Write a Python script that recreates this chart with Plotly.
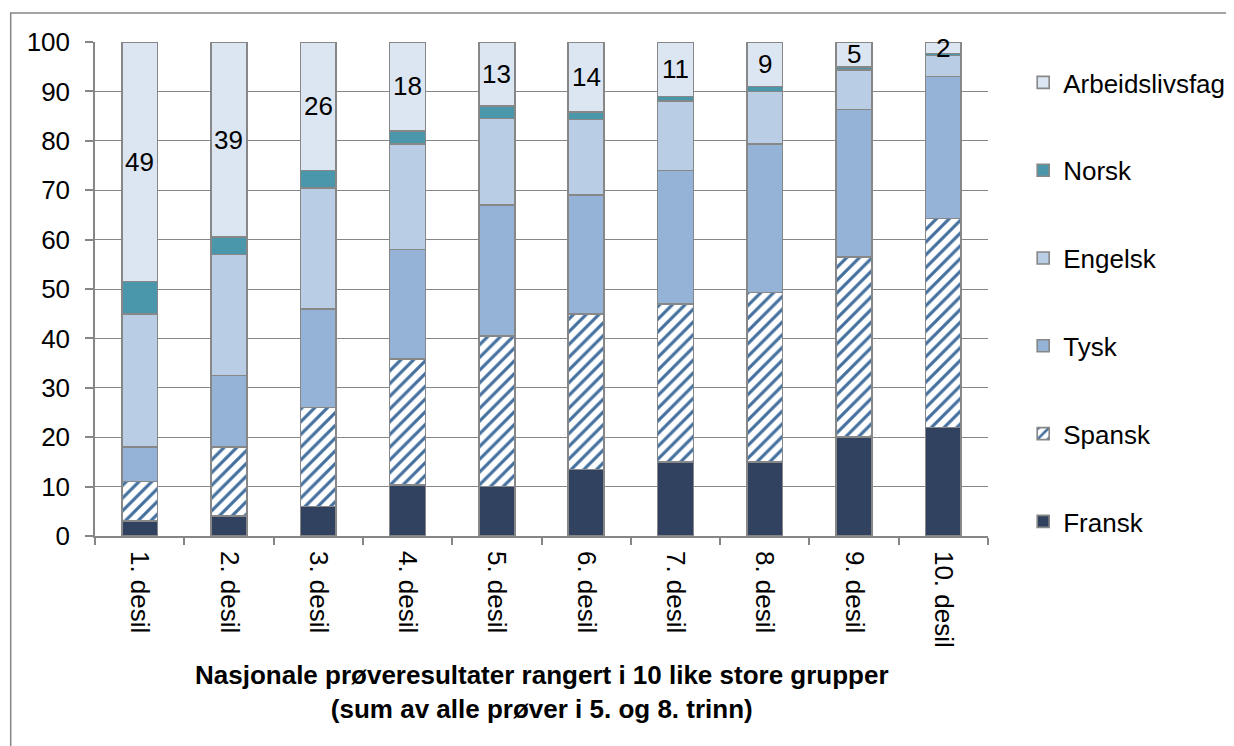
import plotly.graph_objects as go

categories = ['1. desil', '2. desil', '3. desil', '4. desil', '5. desil',
              '6. desil', '7. desil', '8. desil', '9. desil', '10. desil']

fransk = [3, 4, 6, 10.3, 10, 13.5, 15, 15, 20, 22]
spansk = [8, 14, 20, 25.5, 30.5, 31.5, 32, 34.3, 36.5, 42.3]
tysk = [7, 14.5, 20, 22.2, 26.5, 24, 27, 30, 29.8, 28.7]
engelsk = [27, 24.5, 24.5, 21.3, 17.5, 15.3, 14, 10.7, 8, 4.3]
norsk = [6.5, 3.5, 3.5, 2.7, 2.5, 1.5, 1, 1, 0.7, 0.4]
arbeidslivsfag = [48.5, 39.5, 26, 18, 13, 14.2, 11, 9, 5, 2.3]
arbeid_labels = ['49', '39', '26', '18', '13', '14', '11', '9', '5', '2']

FONT = 'Liberation Sans, Arial, sans-serif'
FS = 26
GRAY = '#868686'
EDGE = dict(color='#878787', width=1.6)

series = [
    ('Fransk', fransk, dict(color='#30425F', line=EDGE)),
    ('Spansk', spansk, dict(color='white', line=EDGE,
                            pattern=dict(shape='/', fgcolor='#44709F', bgcolor='white',
                                         size=9, solidity=0.35, fillmode='replace'))),
    ('Tysk', tysk, dict(color='#95B3D7', line=EDGE)),
    ('Engelsk', engelsk, dict(color='#B9CDE5', line=EDGE)),
    ('Norsk', norsk, dict(color='#4A97AB', line=EDGE)),
    ('Arbeidslivsfag', arbeidslivsfag, dict(color='#DCE6F2', line=EDGE)),
]

fig = go.Figure()
for rank, (name, vals, marker) in enumerate(series):
    fig.add_trace(go.Bar(x=categories, y=vals, name=name, marker=marker,
                         legendgroup=name, legendrank=1000 - rank, hoverinfo='skip'))

# labels in the middle of the Arbeidslivsfag segment
for i, cat in enumerate(categories):
    below = fransk[i] + spansk[i] + tysk[i] + engelsk[i] + norsk[i]
    fig.add_annotation(x=cat, y=below + arbeidslivsfag[i] / 2, text=arbeid_labels[i],
                       showarrow=False, font=dict(size=FS, color='black', family=FONT))

fig.add_annotation(xref='paper', yref='paper', x=0.5, y=-0.315,
                   text='<b>Nasjonale prøveresultater rangert i 10 like store grupper<br>'
                        '(sum av alle prøver i 5. og 8. trinn)</b>',
                   showarrow=False, align='center', yanchor='middle',
                   font=dict(size=FS, color='black', family=FONT))

# outer chart frame
fig.add_shape(type='rect', xref='paper', yref='paper', x0=-0.0944, x1=1.6,
              y0=-1.0, y1=1.0587, line=dict(color=GRAY, width=1.5), layer='below')

fig.update_layout(
    width=1234, height=746,
    barmode='stack', bargap=0.6,
    paper_bgcolor='white', plot_bgcolor='white',
    margin=dict(l=87, r=247, t=34, b=218),
    font=dict(family=FONT, size=FS, color='black'),
    legend=dict(x=1.0394, xanchor='left', y=0.9656, yanchor='top',
                traceorder='grouped', tracegroupgap=51,
                font=dict(size=FS), itemwidth=30),
    xaxis=dict(showgrid=False, showline=True, linecolor=GRAY, linewidth=1.5,
               ticks='outside', tickson='boundaries', ticklen=7, tickcolor=GRAY,
               tickwidth=1.5, tickangle=90, ticklabelstandoff=8, tickfont=dict(size=FS)),
    yaxis=dict(range=[0, 100], dtick=10, showgrid=True, gridcolor=GRAY, gridwidth=1.3,
               showline=True, linecolor=GRAY, linewidth=1.5, zeroline=False,
               ticks='outside', ticklen=8, tickcolor=GRAY, tickwidth=1.5,
               ticklabelstandoff=10, tickfont=dict(size=FS)),
)

fig.write_html('out.html')
